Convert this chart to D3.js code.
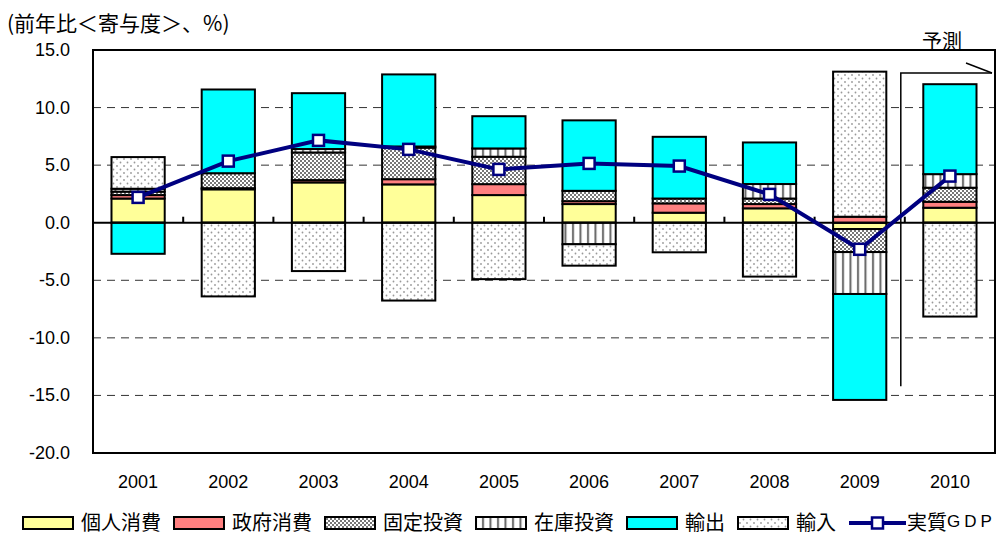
<!DOCTYPE html>
<html>
<head>
<meta charset="utf-8">
<script src="https://cdn.jsdelivr.net/npm/d3@7"></script>
<style>
  body { margin: 0; background: #fff; }
  text { font-family: "Liberation Sans", Arial, sans-serif; }
  .jp { font-family: "Noto Sans CJK JP", sans-serif; }
</style>
</head>
<body>
<script>
// chart data
const years = ["2001", "2002", "2003", "2004", "2005", "2006", "2007", "2008", "2009", "2010"];
const consumption = [2.1, 2.9, 3.5, 3.33, 2.4, 1.62, 0.87, 1.25, -0.55, 1.3];
const government  = [0.3, 0.1, 0.2, 0.45, 0.95, 0.25, 0.81, 0.37, 0.52, 0.52];
const fixedInv    = [0.3, 1.3, 2.4, 2.74, 2.38, 0.9, 0.42, 0.48, -2.0, 1.22];
const inventory   = [0.25, 0, 0.3, 0.1, 0.72, -1.87, 0, 1.26, -3.64, 1.18];
const exportsC    = [-2.7, 7.27, 4.85, 6.26, 2.8, 6.12, 5.36, 3.61, -9.2, 7.81];
const importsC    = [2.75, -6.4, -4.2, -6.76, -4.9, -1.86, -2.57, -4.68, 12.6, -8.15];
const realGDP     = [2.2, 5.35, 7.15, 6.37, 4.63, 5.15, 4.92, 2.46, -2.31, 4.05];
const seriesNames = ["個人消費", "政府消費", "固定投資", "在庫投資", "輸出", "輸入"];
const yTicks = [15, 10, 5, 0, -5, -10, -15, -20];

const w = 1004, h = 536;
const margin = {top: 50, right: 9, bottom: 83, left: 93};

const keys = ["c", "g", "f", "i", "e", "m"];
const fills = ["#FFFF99", "#FF8080", "url(#checker)", "url(#stripes)", "#00FFFF", "url(#dots)"];
const table = years.map((y, k) => ({
  year: y, c: consumption[k], g: government[k], f: fixedInv[k],
  i: inventory[k], e: exportsC[k], m: importsC[k]
}));

const xScale = d3.scaleBand()
    .domain(years)
    .range([margin.left, w - margin.right]);

const yScale = d3.scaleLinear()
    .domain([-20, 15])
    .range([h - margin.bottom, margin.top]);

const svg = d3.select("body").append("svg")
    .attr("width", w)
    .attr("height", h);

// patterns
const defs = svg.append("defs");
const checker = defs.append("pattern").attr("id", "checker")
    .attr("patternUnits", "userSpaceOnUse").attr("width", 4).attr("height", 4);
checker.append("rect").attr("width", 4).attr("height", 4).attr("fill", "#fff");
checker.append("rect").attr("width", 2).attr("height", 2).attr("fill", "#777");
checker.append("rect").attr("x", 2).attr("y", 2).attr("width", 2).attr("height", 2).attr("fill", "#777");

const stripes = defs.append("pattern").attr("id", "stripes")
    .attr("patternUnits", "userSpaceOnUse").attr("width", 7.5).attr("height", 8);
stripes.append("rect").attr("width", 7.5).attr("height", 8).attr("fill", "#fff");
stripes.append("rect").attr("x", 2).attr("width", 2).attr("height", 8).attr("fill", "#666");

const dots = defs.append("pattern").attr("id", "dots")
    .attr("patternUnits", "userSpaceOnUse").attr("width", 7).attr("height", 7);
dots.append("rect").attr("width", 7).attr("height", 7).attr("fill", "#fff");
dots.append("circle").attr("cx", 1.5).attr("cy", 1.5).attr("r", 0.9).attr("fill", "#999");
dots.append("circle").attr("cx", 5).attr("cy", 5).attr("r", 0.9).attr("fill", "#999");

// title
svg.append("text")
    .attr("class", "jp")
    .attr("x", 7)
    .attr("y", 22)
    .attr("dominant-baseline", "central")
    .attr("font-size", 21)
    .text("(前年比＜寄与度＞、%)");

// gridlines
svg.append("g")
  .selectAll("line")
  .data(yTicks.filter(d => d !== 0 && d !== 15 && d !== -20))
  .enter().append("line")
    .attr("x1", margin.left)
    .attr("x2", w - margin.right)
    .attr("y1", d => yScale(d))
    .attr("y2", d => yScale(d))
    .attr("stroke", "#333")
    .attr("stroke-width", 1)
    .attr("stroke-dasharray", "8,6");

// y labels
svg.append("g")
  .selectAll("text")
  .data(yTicks)
  .enter().append("text")
    .attr("x", 70)
    .attr("y", d => yScale(d))
    .attr("text-anchor", "end")
    .attr("dominant-baseline", "central")
    .attr("font-size", 18)
    .text(d => d3.format(".1f")(d).replace("−", "-"));

// x labels
svg.append("g")
  .selectAll("text")
  .data(years)
  .enter().append("text")
    .attr("x", d => xScale(d) + xScale.bandwidth() / 2)
    .attr("y", 482)
    .attr("text-anchor", "middle")
    .attr("dominant-baseline", "central")
    .attr("font-size", 18)
    .text(d => d);

// stacked bars
const stacked = d3.stack()
    .keys(keys)
    .offset(d3.stackOffsetDiverging)(table);

const barW = xScale.bandwidth() * 0.59;

svg.append("g")
  .selectAll("g")
  .data(stacked)
  .enter().append("g")
    .attr("fill", (d, k) => fills[k])
  .selectAll("rect")
  .data(d => d.filter(s => s[1] - s[0] !== 0))
  .enter().append("rect")
    .attr("x", d => xScale(d.data.year) + (xScale.bandwidth() - barW) / 2)
    .attr("y", d => yScale(d[1]))
    .attr("width", barW)
    .attr("height", d => yScale(d[0]) - yScale(d[1]))
    .attr("stroke", "#000")
    .attr("stroke-width", 2);

// zero line and category ticks
svg.append("line")
    .attr("x1", margin.left)
    .attr("x2", w - margin.right)
    .attr("y1", yScale(0))
    .attr("y2", yScale(0))
    .attr("stroke", "#000")
    .attr("stroke-width", 2);

svg.append("g")
  .selectAll("line")
  .data(years.slice(1))
  .enter().append("line")
    .attr("x1", d => xScale(d))
    .attr("x2", d => xScale(d))
    .attr("y1", yScale(0) - 6)
    .attr("y2", yScale(0))
    .attr("stroke", "#000")
    .attr("stroke-width", 2);

// plot border
svg.append("rect")
    .attr("x", margin.left)
    .attr("y", margin.top)
    .attr("width", w - margin.left - margin.right)
    .attr("height", h - margin.top - margin.bottom)
    .attr("fill", "none")
    .attr("stroke", "#000")
    .attr("stroke-width", 2);

// forecast bracket
const fx = xScale("2010") - 4;
const fy = yScale(13);
const fEnd = w - margin.right - 3;
const fg = svg.append("g")
    .attr("fill", "none")
    .attr("stroke", "#000")
    .attr("stroke-width", 1.5);
fg.append("path")
    .attr("d", `M${fx},${yScale(-14.2)}V${fy}H${fEnd}`);
fg.append("line")
    .attr("x1", fEnd - 26).attr("y1", fy - 10)
    .attr("x2", fEnd).attr("y2", fy);
svg.append("text")
    .attr("class", "jp")
    .attr("x", 942)
    .attr("y", 40)
    .attr("text-anchor", "middle")
    .attr("dominant-baseline", "central")
    .attr("font-size", 20)
    .text("予測");

// GDP line
const line = d3.line()
    .x((d, k) => xScale(years[k]) + xScale.bandwidth() / 2)
    .y(d => yScale(d));

svg.append("path")
    .datum(realGDP)
    .attr("d", line)
    .attr("fill", "none")
    .attr("stroke", "#000080")
    .attr("stroke-width", 4);

svg.append("g")
  .selectAll("rect")
  .data(realGDP)
  .enter().append("rect")
    .attr("x", (d, k) => xScale(years[k]) + xScale.bandwidth() / 2 - 5.5)
    .attr("y", d => yScale(d) - 5.5)
    .attr("width", 11)
    .attr("height", 11)
    .attr("fill", "#fff")
    .attr("stroke", "#000080")
    .attr("stroke-width", 2.5);

// legend
const ly = 523;
const ty = 521;
let lx = 23;
const legend = svg.append("g");
seriesNames.forEach((name, k) => {
  legend.append("rect")
      .attr("x", lx)
      .attr("y", ly - 6)
      .attr("width", 50)
      .attr("height", 12)
      .attr("fill", fills[k])
      .attr("stroke", "#000")
      .attr("stroke-width", 2);
  const t = legend.append("text")
      .attr("class", "jp")
      .attr("x", lx + 58)
      .attr("y", ty)
      .attr("dominant-baseline", "central")
      .attr("font-size", 20)
      .text(name);
  lx = lx + 58 + t.node().getComputedTextLength() + 13;
});
legend.append("line")
    .attr("x1", lx)
    .attr("x2", lx + 57)
    .attr("y1", ly)
    .attr("y2", ly)
    .attr("stroke", "#000080")
    .attr("stroke-width", 4);
legend.append("rect")
    .attr("x", lx + 28.5 - 5.5)
    .attr("y", ly - 5.5)
    .attr("width", 11)
    .attr("height", 11)
    .attr("fill", "#fff")
    .attr("stroke", "#000080")
    .attr("stroke-width", 2.5);
const gdpLabel = legend.append("text")
    .attr("class", "jp")
    .attr("x", lx + 58)
    .attr("y", ty)
    .attr("dominant-baseline", "central")
    .attr("font-size", 20);
gdpLabel.append("tspan").text("実質");
gdpLabel.append("tspan")
    .attr("font-family", "Liberation Sans, Arial, sans-serif")
    .attr("font-size", 17)
    .attr("letter-spacing", 4)
    .text("GDP");
</script>
</body>
</html>
